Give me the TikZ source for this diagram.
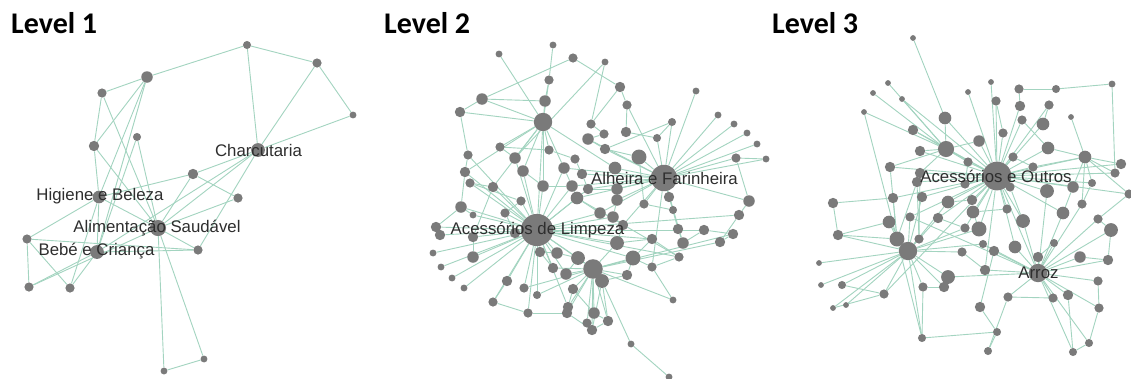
\documentclass[tikz,border=0pt]{standalone}
\usepackage{fontspec}
\setmainfont{Liberation Sans}
\newfontfamily\titlefont{Carlito}
\newfontfamily\lblfont{Liberation Sans}
\pgfdeclarelayer{back}
\pgfdeclarelayer{bg}
\pgfsetlayers{back,bg,main}
\definecolor{edgec}{HTML}{A3D4C0}
\definecolor{ndc}{HTML}{7A7A7A}
\definecolor{lblc}{HTML}{2E2E2E}
\tikzset{
  nd/.style={circle,fill=ndc,draw=none,inner sep=0pt,minimum size={#1*1.15pt}},
  edge/.style={draw=edgec,line width=0.9pt},
  lbl/.style={text=lblc,inner sep=0pt,font=\lblfont\fontsize{16.8}{18}\selectfont},
  ttl/.style={anchor=base west,inner sep=0pt,font=\titlefont\bfseries\fontsize{30}{32}\selectfont}
}
\begin{document}
\begin{tikzpicture}[x=1pt,y=-1pt]
\begin{pgfonlayer}{back}
\fill[white] (0,0) rectangle (1131,378);
\end{pgfonlayer}
\useasboundingbox (0,0) rectangle (1131,378);
% titles
\node[ttl] (t1) at (11,33) {Level 1};
\node[ttl] (t2) at (384,33) {Level 2};
\node[ttl] (t3) at (772,33) {Level 3};
% ---------------- Level 1 nodes
\foreach \n/\x/\y/\s in {aA/247/45/7, aB/317/63/8, aC/353/115/6, aD/147/77/10, aE/102/93/8,
  aF/137/137/7, aG/94/146/9, aCh/258/150/12, aH/193/174/9, aI/238/198/8, aHi/99/197/11,
  aAl/158/228/14, aJ/27/239/8, aBe/97/252/12, aK/198/250/8, aL/29/287/8, aM/70/288/8,
  aN/204/359/6, aO/164/371/6}
  \node[nd=\s] (\n) at (\x,\y) {};
% ---------------- Level 2 nodes
\foreach \n/\x/\y/\s in {P1/537/230/28, P2/664/178/23, P3/543/122/16, P4/593/269/17, P5/602/281/12,
  M1/482/99/10, M2/460/112/9, M3/545/101/10, M4/620/87/9, M5/588/139/10, M6/605/149/9, M7/639/157/13,
  M8/615/168/11, M9/515/158/10, M10/523/171/10, M11/564/168/10, M12/543/186/10, M13/572/186/10,
  M14/588/189/9, M15/577/198/11, M16/617/189/10, M17/617/200/10, M18/461/207/10, M19/465/172/9,
  M20/493/187/9, M21/600/213/10, M22/613/217/10, M23/623/225/9, M24/617/243/12, M25/669/197/9,
  M26/678/229/9, M27/683/243/10, M28/704/230/9, M29/720/242/9, M30/733/234/9, M31/739/215/9,
  M32/749/201/10, M33/736/158/8, M34/473/257/10, M35/473/237/9, M36/436/227/9, M37/440/235/9,
  M38/515/233/9, M39/540/252/9, M40/557/253/10, M41/578/258/12, M42/566/274/10, M43/553/268/9,
  M44/633/258/13, M45/627/275/9, M46/652/239/9, M47/507/281/9, M48/573/289/9, M49/568/307/9,
  M50/567/313/9, M51/594/313/10, M52/608/321/9, M53/592/330/9, M54/493/302/8, M55/537/295/7,
  M56/524/288/8, M57/528/313/8, M58/679/257/8, M59/652/267/8, M60/644/204/8, M61/673/210/7,
  M62/468/155/8, M63/470/183/8, M64/500/147/8, M65/549/150/8, M66/575/159/8, M67/582/174/9,
  M68/591/124/8, M69/604/134/8, M70/626/132/9, M71/627/105/8, M72/573/58/8, M73/549/80/8,
  M74/521/201/8, M75/505/213/8, M76/657/138/7, M77/672/122/7, M78/587/323/8,
  S1/499/54/6, S2/553/45/6, S3/605/62/6, S4/696/91/6, S5/718/115/6, S6/734/124/6, S7/747/133/6,
  S8/757/144/6, S9/766/159/6, S10/433/253/6, S11/441/267/6, S12/452/278/6, S13/464/288/6,
  S14/473/215/6, S15/673/300/6, S16/631/344/6, S17/669/377/6}
  \node[nd=\s] (\n) at (\x,\y) {};
% ---------------- Level 3 nodes
\foreach \n/\x/\y/\s in {Q1/997/176/25, Q2/1038/273/16, Q3/908/251/16, Q4/897/239/13, Q5/946/149/14, Q6/1085/157/11,
  N1/945/118/11, N2/913/130/9, N3/920/151/9, N4/920/173/9, N5/917/182/9, N6/890/167/9, N7/833/203/9,
  N8/838/235/9, N9/893/198/9, N10/889/222/11, N11/922/197/9, N12/948/202/11, N13/938/218/9,
  N14/910/217/8, N15/972/200/9, N16/973/212/11, N17/979/229/13, N18/965/228/8, N19/979/141/10,
  N20/1003/133/8, N21/996/101/8, N22/1019/89/8, N23/1020/106/9, N24/1022/120/8, N25/1043/124/11,
  N26/1049/105/8, N27/1056/89/7, N28/1048/148/11, N29/1013/157/8, N30/1033/167/8, N31/1010/187/8,
  N32/1047/191/12, N33/1073/187/10, N34/1082/204/8, N35/1092/183/7, N36/1115/173/8, N37/1121/164/9,
  N38/1129/194/8, N39/1063/213/11, N40/1098/219/8, N41/1111/230/12, N42/1023/221/12, N43/1007/209/8,
  N44/1054/243/7, N45/1015/247/11, N46/994/251/9, N47/983/244/7, N48/1038/257/9, N49/1080/257/10,
  N50/1108/260/9, N51/1098/281/8, N52/1068/295/9, N53/1053/298/8, N54/1099/308/8, N55/1008/297/8,
  N56/980/307/9, N57/985/270/9, N58/962/252/8, N59/948/277/12, N60/944/287/9, N61/923/287/8,
  N62/884/294/8, N63/842/285/7, N64/997/332/7, N65/922/338/7, N66/988/351/7, N67/1089/343/7,
  N68/1073/352/7, N69/919/239/8, N70/965/184/8, N71/968/162/8,
  T1/913/38/5, T2/888/83/5, T3/873/93/5, T4/864/112/5, T5/902/99/5, T6/968/92/5, T7/991/82/5,
  T8/1071/117/5, T9/1112/84/6, T10/819/263/5, T11/821/285/5, T12/833/308/5, T13/846/305/5}
  \node[nd=\s] (\n) at (\x,\y) {};
% ---------------- edges
\begin{pgfonlayer}{bg}
% level 1
\foreach \a/\b in {aA/aB, aA/aD, aA/aCh, aB/aC, aB/aCh, aC/aCh, aD/aE, aD/aG, aD/aHi, aD/aBe,
  aE/aG, aE/aAl, aF/aAl, aF/aBe, aG/aHi, aG/aAl, aHi/aBe, aHi/aH, aHi/aJ, aHi/aAl, aH/aAl,
  aH/aI, aH/aCh, aI/aAl, aCh/aAl, aCh/aBe, aCh/aK, aAl/aK, aAl/aN, aAl/aO, aAl/aL, aJ/aL,
  aJ/aM, aJ/aK, aBe/aL, aBe/aM, aBe/aK, aM/aHi, aN/aO}
  \draw[edge] (\a) -- (\b);
% level 2
\foreach \b in {M36,M37,S10,S11,S12,S13,M34,M35,M18,M19,M20,M9,M10,M12,M13,M15,M38,M39,M40,M41,
  M42,M43,M47,M54,M55,M56,M57,M74,M75,S14,M21,M22,M24,M44,M46,M31,M28,M58,P3,M62,M63,M11,M14,P4,M49}
  \draw[edge] (P1) -- (\b);
\foreach \b in {S4,S5,S6,S7,S8,S9,M33,M7,M8,M76,M77,M6,M5,M16,M17,M25,M26,M27,M61,M60,M59,M14,
  M11,M67,M21,M23,M32,M71,M13,M15}
  \draw[edge] (P2) -- (\b);
\foreach \b in {M1,M3,M73,S1,M9,M10,M11,M12,M19,M20,M64,M65,M2,M8}
  \draw[edge] (P3) -- (\b);
\foreach \b in {M42,M43,M48,M49,M50,M51,M52,M53,M44,M45,M24,M56,M55,S15,M78,M41,P5,M30,M29}
  \draw[edge] (P4) -- (\b);
\foreach \a/\b in {P5/S16, P5/M52, P5/M53, P5/M45, S16/S17, M1/M2, M1/M3, M2/M62, M62/M19,
  M19/M18, M18/M36, M36/M37, S2/M73, M73/M3, M72/M4, S3/M68, M4/M71, M4/M68, M71/M70, M70/M76,
  M76/M77, M77/M6, M30/M29, M29/M31, M31/M32, M32/M33, M33/S9, M26/M27, M27/M28, M28/M30,
  M58/M59, M59/M44, M58/M15, M47/M54, M54/M57, M57/M50, M50/M53, M53/M52, M78/M53, M34/M35,
  M35/M20, S14/M18, M63/M20, M63/M74, M74/M75, M75/M38, M64/M9, M64/M65, M65/M66, M66/M67,
  M67/M14, M14/M16, M16/M17, M17/M22, M22/M23, M23/M24, M68/M69, M69/M5, M5/M6, M6/M7, M7/M60,
  M60/M61, M10/M12, M12/M13, M13/M15, M11/M13, M39/M40, M40/M41, M41/M42, M43/M39, M44/M45,
  M46/M44, M46/M58, M51/M52, M51/M48, M48/M49, M21/M22, M21/M15, M24/M46, S15/M59, M72/M1, S3/M9}
  \draw[edge] (\a) -- (\b);
% level 3
\foreach \b in {N1,N2,N3,N4,N5,N11,N12,N13,N15,N16,N17,N18,N19,N20,N21,T6,T7,N23,N24,N25,N26,N28,
  N29,N30,N31,N32,N33,N35,N36,N37,N38,N39,N42,N43,N45,N57,Q5,Q6,N70,N71,Q2,N9,N14,N62,N6,T5}
  \draw[edge] (Q1) -- (\b);
\foreach \b in {N44,N48,N49,N50,N51,N52,N53,N54,N55,N42,N45,N39,N40,N41,N34,N47,N46,N59,N32,N68,N67,N57,N14}
  \draw[edge] (Q2) -- (\b);
\foreach \b in {Q4,T10,T11,T12,T13,N63,N62,N61,N60,N59,N58,N69,N10,N8,N14,N11,N12,N13,N18,N65,N17,N47}
  \draw[edge] (Q3) -- (\b);
\foreach \b in {N8,N10,N9,N6,T4,N5}
  \draw[edge] (Q4) -- (\b);
\foreach \b in {N1,N2,T2,T3,T4,N6,N19,N71,T5,N3,N4}
  \draw[edge] (Q5) -- (\b);
\foreach \b in {T8,N28,N30,N33,N35,N36,N37,N34,N38}
  \draw[edge] (Q6) -- (\b);
\foreach \a/\b in {T1/N1, N7/N8, N7/N9, T9/N36, N64/N65, N64/N56, N66/N55, N65/N61, N67/N68,
  N68/N52, N67/N54, N22/N23, N22/N27, N27/T9, N26/N25, N21/N20, N24/N28, N29/N30, N31/N42,
  N43/N16, N46/N47, N46/N56, N57/N58, N60/N61, N62/N63, N62/T12, N10/N8, N50/N41, N40/N41,
  N38/N40, N49/N50, N51/N54, N53/N55, N48/N44, N34/N35, N33/N39, N70/N71, N12/N15, N16/N17,
  N18/N13, N69/N4, N69/N5, N66/N64, N65/Q4}
  \draw[edge] (\a) -- (\b);
\end{pgfonlayer}
% labels
\node[lbl] (lCh) at (258.5,150) {Charcutaria};
\node[lbl] (lHi) at (100,196) {Higiene e Beleza};
\node[lbl] (lAl) at (157,228) {Alimentação Saudável};
\node[lbl] (lBe) at (96.5,251) {Bebé e Criança};
\node[lbl] (lAF) at (664.5,178) {Alheira e Farinheira};
\node[lbl] (lLP) at (537.5,230) {Acessórios de Limpeza};
\node[lbl] (lAO) at (996,176) {Acessórios e Outros};
\node[lbl] (lAr) at (1038.5,273) {Arroz};
\end{tikzpicture}
\end{document}
